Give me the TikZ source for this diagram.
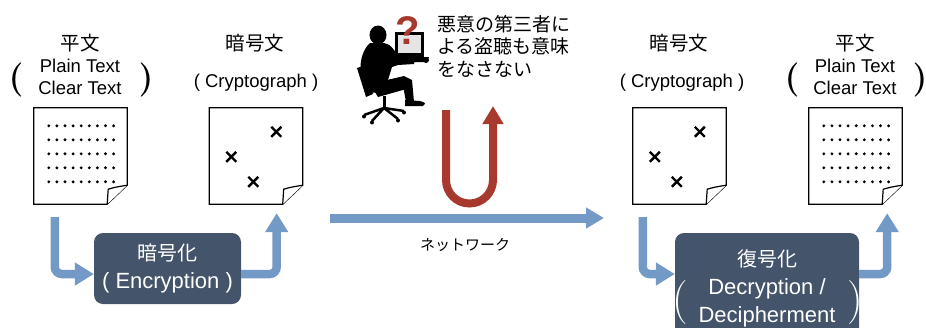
\documentclass[tikz,border=0pt]{standalone}
\usepackage{fontspec}
\setsansfont{Liberation Sans}
\newfontfamily\jp{Noto Sans CJK JP}
\usetikzlibrary{arrows.meta}

\definecolor{flowblue}{HTML}{7399C6}
\definecolor{boxslate}{HTML}{44546A}
\definecolor{alertred}{HTML}{A8392E}

% sheet of paper with a turned-up corner, drawn round a page node
\newcommand\sheet[1]{%
	\draw[sheetline] (#1.north west) -- (#1.north east) -- ([yshift=19pt]#1.south east)
		-- ([xshift=-20pt]#1.south east) -- (#1.south west) -- cycle;
	\draw[sheetline] ([xshift=-20pt]#1.south east) -- ([xshift=-19pt,yshift=15pt]#1.south east)
		.. controls ([xshift=-12pt,yshift=17pt]#1.south east) .. ([yshift=19pt]#1.south east);
}

\begin{document}
\begin{tikzpicture}[x=1pt,y=-1pt,
	page/.style={minimum width=93pt,minimum height=96pt,inner sep=0pt},
	sheetline/.style={black,line width=1.2pt,fill=white},
	caption/.style={font=\sffamily\fontsize{18.5}{22}\selectfont,inner sep=0pt,align=center},
	jcaption/.style={font=\jp\fontsize{19.5}{22}\selectfont,inner sep=0pt},
	bigparen/.style={font=\bfseries\fontsize{34}{34}\selectfont,inner sep=0pt},
	procbox/.style={fill=boxslate,rounded corners=9pt,text=white,align=center,inner sep=0pt,
		font=\sffamily\fontsize{22}{28}\selectfont},
	flow/.style={flowblue,line width=8.5pt,rounded corners=7pt,-{Triangle[width=22pt,length=19pt]}},
	alert/.style={alertred,line width=8pt,-{Triangle[width=20pt,length=18pt]}},
	cross/.style={line width=2.4pt},
	dot/.style={fill=black}]
	\useasboundingbox (0,0) rectangle (926,327);
	\clip (0,0) rectangle (926,327);

	% the four sheets
	\node[page] (plainL) at (80.5,156) {};
	\node[page] (cipherL) at (256,156) {};
	\node[page] (cipherR) at (679.5,156) {};
	\node[page] (plainR) at (855.5,156) {};
	\sheet{plainL}
	\sheet{cipherL}
	\sheet{cipherR}
	\sheet{plainR}

	% rows of dots on the plain sheets
	\foreach \s in {plainL,plainR}{
		\begin{scope}[shift={(\s.north west)}]
			\foreach \i in {0,...,8}
				\foreach \j in {0,...,4}
					\fill[dot] (15+8.1*\i,18+14*\j) circle (1.6pt);
		\end{scope}
	}
	% crosses on the cipher sheets
	\foreach \s in {cipherL,cipherR}{
		\begin{scope}[shift={(\s.north west)}]
			\foreach \cx/\cy in {67/24,22/49,44/74}
				\draw[cross] (\cx-5,\cy-5) -- (\cx+5,\cy+5) (\cx-5,\cy+5) -- (\cx+5,\cy-5);
		\end{scope}
	}

	% captions
	\node[jcaption] (plainLja) at (80,43) {平文};
	\node[caption] (plainLen) at (80,77) {Plain Text\\Clear Text};
	\node[bigparen] (plainLo) at (16,80) {(};
	\node[bigparen] (plainLc) at (146,80) {)};
	\node[jcaption] (cipherLja) at (255,43) {暗号文};
	\node[caption] (cipherLen) at (256,83) {( Cryptograph )};
	\node[jcaption] (cipherRja) at (679,43) {暗号文};
	\node[caption] (cipherRen) at (682,83) {( Cryptograph )};
	\node[jcaption] (plainRja) at (855,43) {平文};
	\node[caption] (plainRen) at (855,77) {Plain Text\\Clear Text};
	\node[bigparen] (plainRo) at (792,80) {(};
	\node[bigparen] (plainRc) at (920,80) {)};

	% encrypt / decrypt boxes
	\node[procbox,minimum width=147pt,minimum height=71pt] (enc) at (167.5,268.5)
		{{\jp\fontsize{20}{28}\selectfont 暗号化}\\( Encryption )};
	\node[procbox,minimum width=184pt,minimum height=107pt,text depth=0pt] (dec) at (767,286.5)
		{{\jp\fontsize{20}{28}\selectfont 復号化}\\Decryption /\\Decipherment};
	\node[inner sep=0pt,text=white,font=\fontsize{44}{44}\selectfont] (deco) at (680,303) {(};
	\node[inner sep=0pt,text=white,font=\fontsize{44}{44}\selectfont] (decc) at (855,303) {)};

	% flow of the text
	\draw[flow] ([xshift=21pt,yshift=-13pt]plainL.south west) |- ([yshift=-5.5pt]enc.west);
	\draw[flow] ([yshift=-5.5pt]enc.east) -| ([xshift=-26pt,yshift=-9pt]cipherL.south east);
	\draw[flow] ([xshift=10pt,yshift=-13pt]cipherR.south west) |- ([yshift=12.5pt]dec.west);
	\draw[flow] ([yshift=12.5pt]dec.east) -| ([xshift=-15pt,yshift=-9pt]plainR.south east);

	% network
	\coordinate (netA) at (330,218);
	\coordinate (netB) at (604,218);
	\draw[flow,line width=9pt,-{Triangle[width=20pt,length=18pt]}] (netA) -- (netB);
	\node[font=\jp\fontsize{15}{16}\selectfont,inner sep=0pt] (netlabel) at (465,245) {ネットワーク};

	% eavesdropper bounced back
	\coordinate (uA) at (446,110);
	\coordinate (uB) at (493,106);
	\draw[alert] (uA) -- (446,180) arc[start angle=180,end angle=360,radius=23.5pt] -- (uB);

	% person at a laptop
	\fill (395,32) rectangle (424,58);
	\fill[gray!20] (398,35) rectangle (421,53);
	\fill (389,57) -- (429,57) -- (427,62) -- (391,62) -- cycle;
	\fill (426,60) circle (3pt);
	\fill (378,35) ellipse [x radius=8.5pt,y radius=9.5pt];
	\fill (370,43) .. controls (362,50) and (358,65) .. (362,80) -- (368,93) -- (384,92)
		-- (388,80) -- (392,67) -- (398,65) -- (414,64) -- (415,59) -- (400,58)
		-- (394,50) .. controls (390,45) .. (384,43) -- cycle;
	\fill (357,68) -- (363,66) -- (373,94) -- (366,97) -- cycle;
	\fill (370,84) -- (404,76) -- (412,80) -- (410,88) -- (378,97) -- cycle;
	\fill (402,80) -- (412,80) -- (414,102) -- (406,102) -- cycle;
	\fill (405,100) -- (420,101) .. controls (426,103) .. (423,106) -- (405,106) -- cycle;
	\draw[line width=3pt] (384,96) -- (384,108);
	\draw[line width=2.5pt] (384,108) -- (364,115) (384,108) -- (372,121)
		(384,108) -- (398,119) (384,108) -- (404,111);
	\foreach \wx/\wy in {364/115,372/121,398/119,404/111}
		\fill (\wx,\wy+1.5) circle (2pt);
	\node[text=alertred,font=\sffamily\bfseries\fontsize{40}{40}\selectfont,inner sep=0pt] (qmark) at (408,31) {?};

	\node[jcaption,font=\jp\fontsize{19}{22.5}\selectfont,align=left,anchor=north west] (warn) at (437,15)
		{悪意の第三者に\\よる盗聴も意味\\をなさない};
\end{tikzpicture}
\end{document}
